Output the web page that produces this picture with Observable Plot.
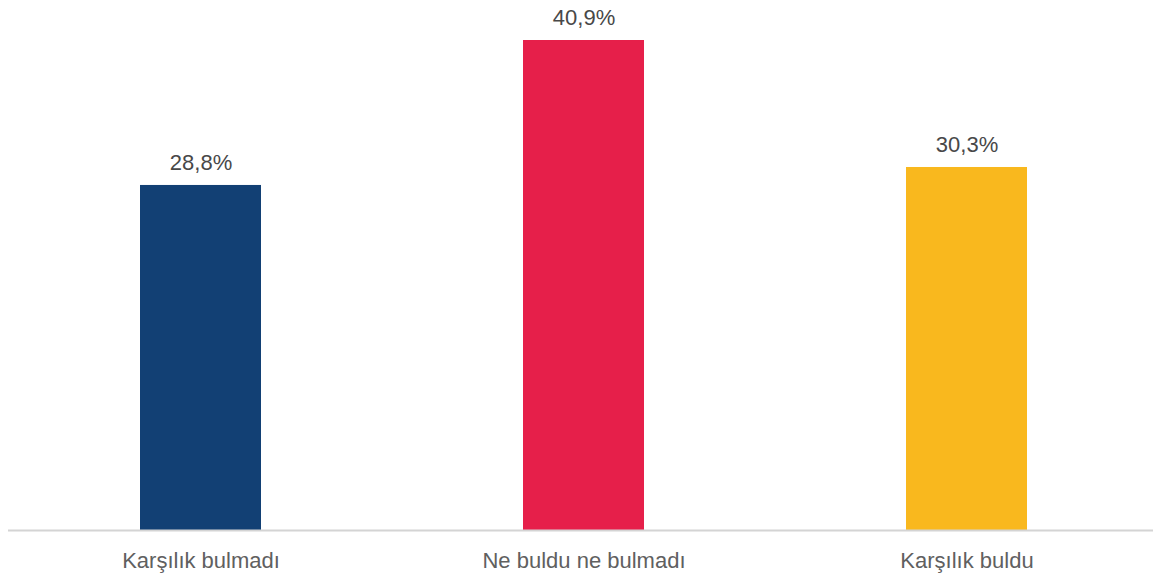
<!DOCTYPE html>
<html>
<head>
<meta charset="utf-8">
<script src="https://cdn.jsdelivr.net/npm/d3@7"></script>
<script src="https://cdn.jsdelivr.net/npm/@observablehq/plot@0.6"></script>
<style>
  html, body { margin: 0; padding: 0; background: #fff; }
  #chart svg { display: block; }
</style>
</head>
<body>
<div id="chart"></div>
<script>
const categories = ["Karşılık bulmadı", "Ne buldu ne bulmadı", "Karşılık buldu"];
const values = [28.8, 40.9, 30.3];
const colors = ["#124074", "#E61F4A", "#F9B81E"];

const data = categories.map((c, i) => ({category: c, value: values[i]}));
const fmt = v => v.toFixed(1).replace(".", ",") + "%";

const chart = Plot.plot({
  width: 1153,
  height: 580,
  marginTop: 40,
  marginBottom: 50,
  marginLeft: 8,
  marginRight: 0,
  style: {fontFamily: "'Liberation Sans', Arial, sans-serif", background: "#fff"},
  x: {domain: categories, range: [7.9, 1158.4], paddingInner: 0.685, paddingOuter: 0.3425, label: null},
  y: {domain: [0, 40.9], axis: null},
  color: {domain: categories, range: colors},
  marks: [
    Plot.barY(data, {x: "category", y: "value", fill: "category"}),
    Plot.ruleY([0], {stroke: "#d4d4d4", strokeWidth: 2}),
    Plot.text(data, {x: "category", y: "value", text: d => fmt(d.value), dy: -23, fontSize: 22, fill: "#484848"}),
    Plot.axisX({tickSize: 0, tickPadding: 22, fontSize: 22, color: "#606060", label: null})
  ]
});
document.getElementById("chart").appendChild(chart);
</script>
</body>
</html>
